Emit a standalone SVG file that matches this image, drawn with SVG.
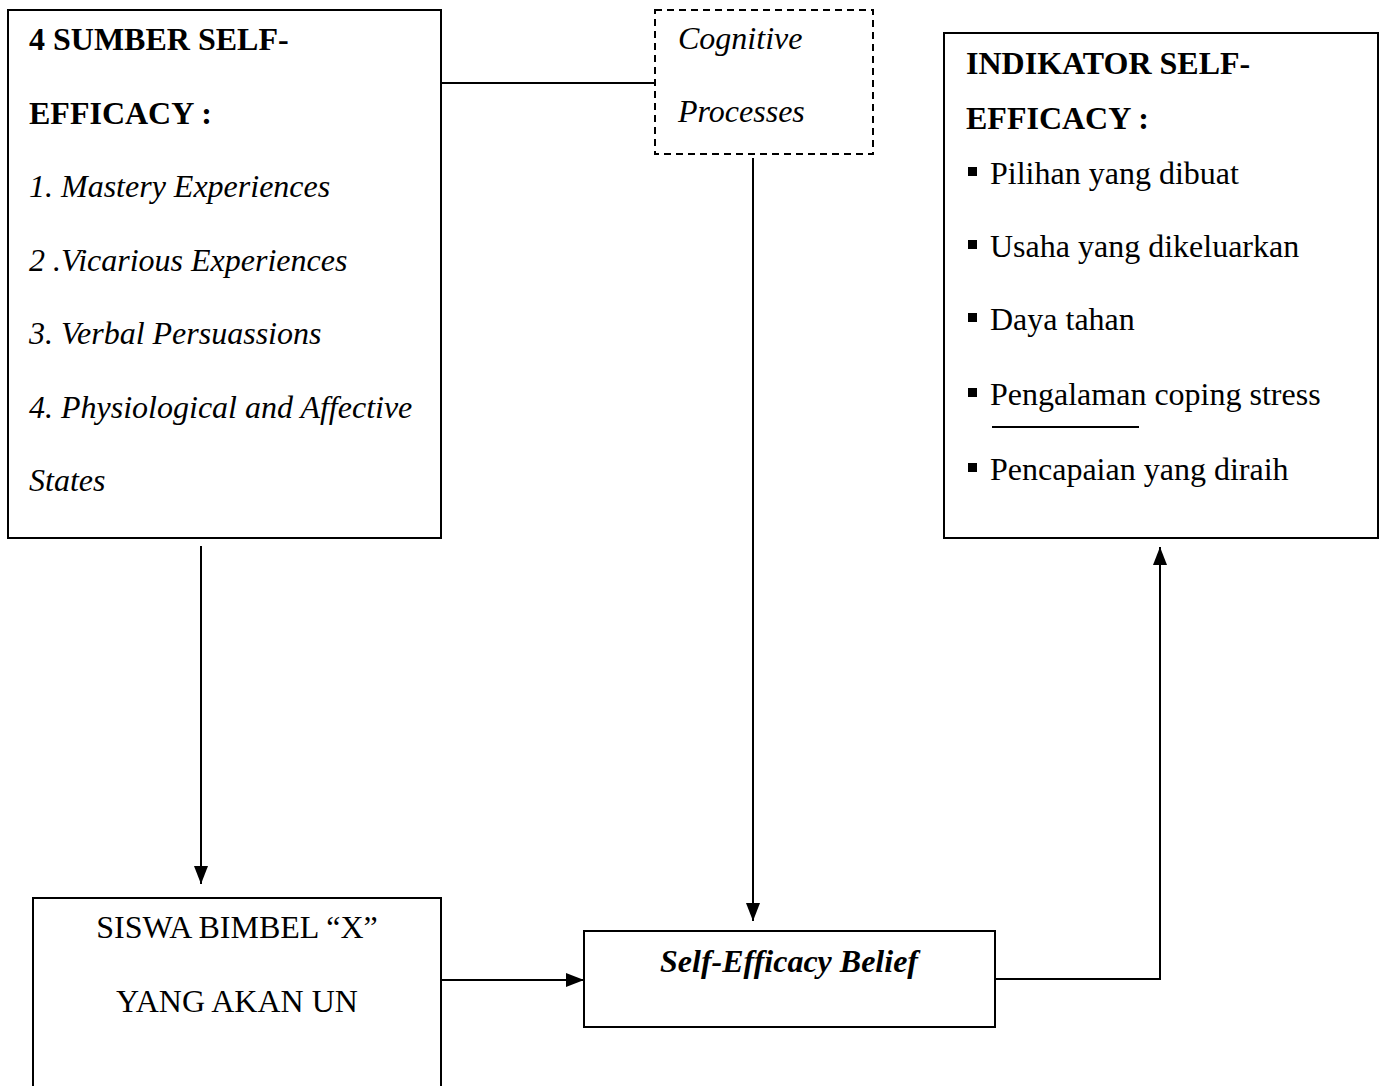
<svg xmlns="http://www.w3.org/2000/svg" width="1384" height="1086" viewBox="0 0 1384 1086">
<style>
text{font-family:"Liberation Serif","Times New Roman",serif;font-size:32px;fill:#000}
.b{font-weight:bold}
.i{font-style:italic}
.box{fill:#fff;stroke:#000;stroke-width:2}
.dash{fill:#fff;stroke:#000;stroke-width:2;stroke-dasharray:7,5}
.ln{fill:none;stroke:#000;stroke-width:2}
</style>
<defs>
<marker id="ah" markerUnits="userSpaceOnUse" markerWidth="18" markerHeight="14" refX="18" refY="7" viewBox="0 0 18 14" orient="auto">
<path d="M0,0 L18,7 L0,14 Z" fill="#000"/>
</marker>
</defs>
<g id="connectors">
<line class="ln" x1="441" y1="83" x2="655" y2="83"/>
<line class="ln" x1="753" y1="158" x2="753" y2="921" marker-end="url(#ah)"/>
<line class="ln" x1="201" y1="546" x2="201" y2="884" marker-end="url(#ah)"/>
<line class="ln" x1="441" y1="980" x2="584" y2="980" marker-end="url(#ah)"/>
<polyline class="ln" points="995,979 1160,979 1160,547" marker-end="url(#ah)"/>
</g>
<g id="sumber">
<rect class="box" x="8" y="10" width="433" height="528"/>
<text class="b" x="29" y="50">4 SUMBER SELF-</text>
<text class="b" x="29" y="123.5">EFFICACY :</text>
<text class="i" x="29" y="197">1. Mastery Experiences</text>
<text class="i" x="29" y="270.5">2 .Vicarious Experiences</text>
<text class="i" x="29" y="344">3. Verbal Persuassions</text>
<text class="i" x="29" y="417.5">4. Physiological and Affective</text>
<text class="i" x="29" y="491">States</text>
</g>
<g id="cognitive">
<rect class="dash" x="655" y="10" width="218" height="144"/>
<text class="i" x="678" y="49">Cognitive</text>
<text class="i" x="678" y="122">Processes</text>
</g>
<g id="indikator">
<rect class="box" x="944" y="33" width="434" height="505"/>
<text class="b" x="966" y="74">INDIKATOR SELF-</text>
<text class="b" x="966" y="129">EFFICACY :</text>
<rect x="968" y="167" width="9" height="9"/>
<text x="990" y="184">Pilihan yang dibuat</text>
<rect x="968" y="240" width="9" height="9"/>
<text x="990" y="256.5">Usaha yang dikeluarkan</text>
<rect x="968" y="313" width="9" height="9"/>
<text x="990" y="330">Daya tahan</text>
<rect x="968" y="388" width="9" height="9"/>
<text x="990" y="404.5">Pengalaman coping stress</text>
<line class="ln" x1="992" y1="427" x2="1139" y2="427"/>
<rect x="968" y="463" width="9" height="9"/>
<text x="990" y="479.5">Pencapaian yang diraih</text>
</g>
<g id="siswa">
<rect class="box" x="33" y="898" width="408" height="200"/>
<text x="237" y="938" text-anchor="middle">SISWA BIMBEL “X”</text>
<text x="237" y="1012" text-anchor="middle">YANG AKAN UN</text>
</g>
<g id="belief">
<rect class="box" x="584" y="931" width="411" height="96"/>
<text class="b i" x="789" y="972" text-anchor="middle">Self-Efficacy Belief</text>
</g>
</svg>
